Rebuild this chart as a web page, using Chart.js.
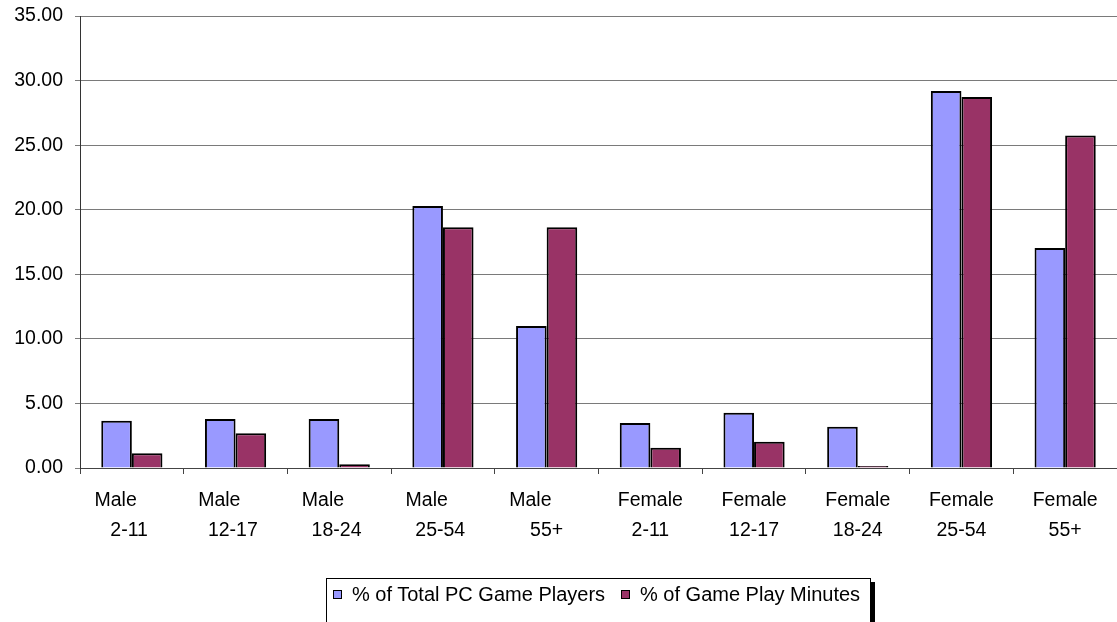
<!DOCTYPE html>
<html>
<head>
<meta charset="utf-8">
<script src="https://cdn.jsdelivr.net/npm/chart.js@4.4.0/dist/chart.umd.min.js"></script>
<style>
  html, body { margin: 0; padding: 0; background: #fff; }
  #wrap { position: relative; width: 1117px; height: 622px; overflow: hidden; }
  #legend {
    position: absolute; left: 326px; top: 578px; width: 545px; height: 50px;
    border: 1px solid #000; box-shadow: 4px 4px 0 #000; background: #fff;
    font-family: "Liberation Sans", Arial, sans-serif; font-size: 20px; color: #000;
    box-sizing: border-box;
  }
  .item { position: absolute; top: 3px; white-space: nowrap; line-height: 24px; }
  .sw { display: inline-block; width: 7px; height: 7px; border: 1px solid #000; margin-right: 10px; vertical-align: 2px; }
</style>
</head>
<body>
<div id="wrap">
  <canvas id="c" width="1117" height="622"></canvas>
  <div id="legend"></div>
</div>
<script>
const categories = [
  ["Male      ", "2-11 "], ["Male      ", "12-17 "], ["Male      ", "18-24 "], ["Male      ", "25-54 "], ["Male      ", "55+"],
  ["Female", "2-11"], ["Female", "12-17"], ["Female", "18-24"], ["Female", "25-54"], ["Female", "55+"]
];
const seriesNames = ["% of Total PC Game Players", "% of Game Play Minutes"];
const totalPlayers = [3.66, 3.79, 3.79, 20.29, 11.0, 3.49, 4.28, 3.2, 29.2, 17.04];
const playMinutes = [1.14, 2.69, 0.29, 18.64, 18.64, 1.57, 2.04, 0.15, 28.72, 25.75];
const seriesColors = ["#9999FF", "#993366"];

const FONT = { family: '"Liberation Sans", Arial, sans-serif', size: 19.5, lineHeight: 1.52 };

const chart = new Chart(document.getElementById('c'), {
  type: 'bar',
  data: {
    labels: categories,
    datasets: [
      { label: seriesNames[0], data: totalPlayers, backgroundColor: seriesColors[0] },
      { label: seriesNames[1], data: playMinutes, backgroundColor: seriesColors[1] }
    ]
  },
  options: {
    responsive: false,
    animation: false,
    devicePixelRatio: 1,
    layout: { padding: { top: 16, right: 0, left: 0, bottom: 0 } },
    datasets: {
      bar: { borderColor: '#000', borderWidth: 2, categoryPercentage: 0.59, barPercentage: 1.0 }
    },
    plugins: { legend: { display: false }, tooltip: { enabled: false } },
    scales: {
      x: {
        grid: { display: true, drawOnChartArea: false, offset: true, tickLength: 6, color: '#444', lineWidth: 1 },
        border: { color: '#444', width: 1 },
        ticks: { color: '#000', font: FONT, padding: 12, maxRotation: 0, autoSkip: false },
        afterFit: (s) => { s.height = 154; s.paddingLeft = 0; s.paddingRight = 0; }
      },
      y: {
        min: 0, max: 35,
        grid: { color: '#7a7a7a', lineWidth: 1, tickLength: 5 },
        border: { color: '#333', width: 1 },
        ticks: { stepSize: 5, color: '#000', font: { family: FONT.family, size: 19.5 }, padding: 12, callback: (v) => v.toFixed(2) },
        afterFit: (s) => { s.width = 80; s.paddingTop = 0; s.paddingBottom = 0; }
      }
    }
  }
});

const lg = document.getElementById('legend');
const offsets = [6, 294];
seriesNames.forEach((n, i) => {
  const d = document.createElement('div');
  d.className = 'item';
  d.style.left = offsets[i] + 'px';
  d.innerHTML = '<span class="sw" style="background:' + seriesColors[i] + '"></span>' + n;
  lg.appendChild(d);
});
</script>
</body>
</html>
